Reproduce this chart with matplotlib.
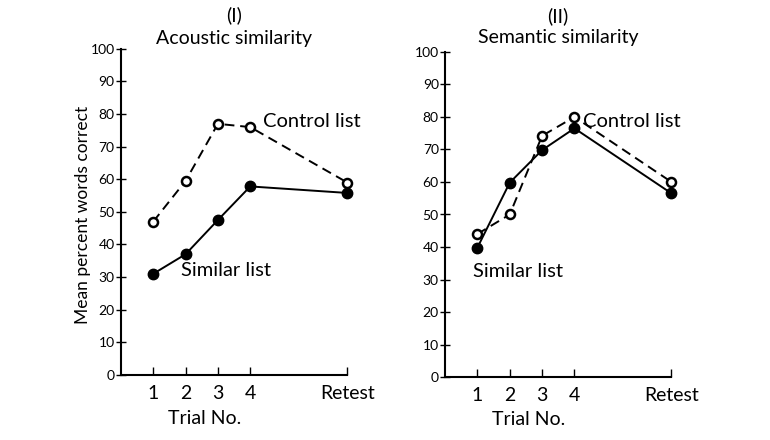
import matplotlib
matplotlib.use("Agg")
import matplotlib.pyplot as plt

# trial positions on the x axis (Retest sits further out)
trial_pos = [1, 2, 3, 4, 7]
trial_labels = ["1", "2", "3", "4", "Retest"]
y_ticks = [0, 10, 20, 30, 40, 50, 60, 70, 80, 90, 100]

# (I) acoustic similarity
acoustic_control = [47, 59.5, 77, 76, 59]
acoustic_similar = [31, 37, 47.5, 57.8, 55.8]

# (II) semantic similarity
semantic_control = [44, 50, 74.2, 80, 60]
semantic_similar = [39.8, 59.8, 69.8, 76.5, 56.5]

plt.rcParams['font.family'] = ['Lato', 'DejaVu Sans']

fig = plt.figure(figsize=(7.7, 4.4), dpi=100)
ax1 = fig.add_axes([0.157, 0.148, 0.294, 0.741])
ax2 = fig.add_axes([0.578, 0.143, 0.294, 0.739])

panels = [
    (ax1, acoustic_control, acoustic_similar, "(I)", "Acoustic similarity",
     (4.4, 77.6), (1.87, 31.9), (1.104, 1.031), -0.135),
    (ax2, semantic_control, semantic_similar, "(II)", "Semantic similarity",
     (4.25, 78.5), (0.85, 32.5), (1.111, 1.043), -0.129),
]

for ax, ctrl, sim, num, title, ctrl_xy, sim_xy, title_y, xlab_y in panels:
    ax.plot(trial_pos, ctrl, color='black', lw=1.4, ls=(0, (5, 3)),
            marker='o', ms=6.5, mfc='white', mec='black', mew=1.8,
            zorder=3, clip_on=False)
    ax.plot(trial_pos, sim, color='black', lw=1.4, ls='-',
            marker='o', ms=7.5, mfc='black', mec='black',
            zorder=4, clip_on=False)
    ax.set_xlim(0, 7)
    ax.set_ylim(0, 100)
    ax.set_xticks(trial_pos)
    ax.set_xticklabels(trial_labels, fontsize=14)
    ax.set_yticks(y_ticks)
    ax.set_yticklabels([str(v) for v in y_ticks], fontsize=10)
    ax.tick_params(axis='x', direction='in', length=6, width=1, pad=7)
    ax.tick_params(axis='y', direction='inout', length=7, width=1, pad=1)
    for s in ['top', 'right']:
        ax.spines[s].set_visible(False)
    for s in ['left', 'bottom']:
        ax.spines[s].set_linewidth(1.5)
    ax.text(0.37, xlab_y, "Trial No.", transform=ax.transAxes,
            ha='center', va='center', fontsize=14)
    ax.text(0.5, title_y[0], num, transform=ax.transAxes, ha='center',
            va='center', fontsize=14)
    ax.text(0.5, title_y[1], title, transform=ax.transAxes, ha='center',
            va='center', fontsize=14)
    ax.text(ctrl_xy[0], ctrl_xy[1], "Control list", fontsize=14.5,
            ha='left', va='center')
    ax.text(sim_xy[0], sim_xy[1], "Similar list", fontsize=14.5,
            ha='left', va='center')

fig.text(0.108, 0.511, "Mean percent words correct", rotation=90,
         ha='center', va='center', fontsize=12.5)

fig.savefig("out.png", dpi=100)
